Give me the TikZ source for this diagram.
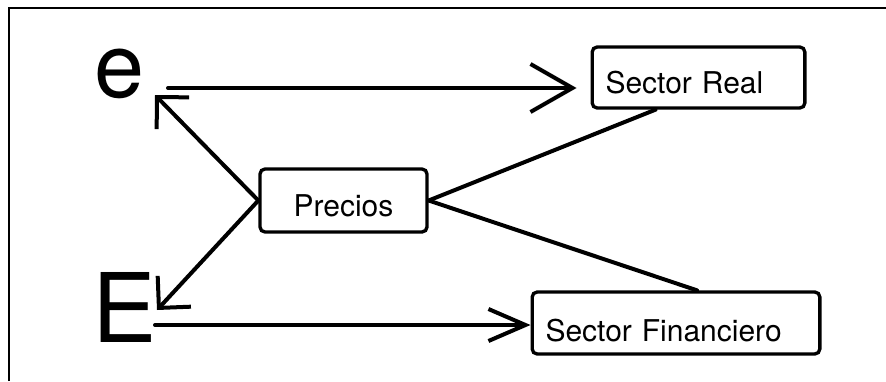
\documentclass[tikz,border=0pt]{standalone}
\usepackage{fontspec}
\setmainfont{TeX Gyre Heros}
\usetikzlibrary{arrows.meta,calc}
\tikzset{
  sector/.style={draw, line width=1mm, rounded corners=1.5mm, inner xsep=4mm, inner ysep=0pt, text depth=0pt, font=\fontsize{25.6}{30}\selectfont},
  flow/.style={line width=1.2mm, line cap=round},
  headA/.style={flow, -{Straight Barb[length=12.6mm, width=14.4mm]}},
  headB/.style={flow, -{Straight Barb[length=11.1mm, width=9.6mm]}},
  headL/.style={flow, -{Straight Barb[length=6.8mm, width=13.6mm]}},
}

\begin{document}
\begin{tikzpicture}[x=0.3mm, y=-0.3mm]
\useasboundingbox (0,0) rectangle (886,381);
\draw[line width=0.6mm] (9,381) -- (9,8) -- (886,8);

	\node[inner sep=0, anchor=base west, font=\fontsize{76.8}{80}\selectfont] (e) at (94,97) {e};
	\node[inner sep=0, anchor=base west, font=\fontsize{82}{86}\selectfont] (E) at (92,342) {E};

	\node[sector, minimum width=50.1mm, minimum height=18.9mm, text height=9.7mm] (precios) at (343.5,200.5) {Precios};
	\node[sector, text width=55.8mm, minimum height=18.3mm, text height=9.5mm, align=left] (sreal) at (698.5,77.5) {Sector Real};
	\node[sector, text width=78.3mm, minimum height=18.6mm, text height=11.2mm, align=left] (sfin) at (676,323) {Sector Financiero};

\coordinate (e out) at (168,88);
\coordinate (e in) at (155,95);
\coordinate (E out) at (155,325);
\coordinate (E in) at (157,310);

	\draw[headA, shorten >=4.2mm] (e out) -- (e out -| sreal.west);
	\draw[headB] (E out) -- (E out -| sfin.west);
	\draw[headL] (precios.west) -- (e in);
	\draw[headL] (precios.west) -- (E in);
	\draw[flow] (precios.east) -- ($(sreal.south)+(-43,0)$);
	\draw[flow] (precios.east) -- ($(sfin.north)+(21,0)$);
\end{tikzpicture}
\end{document}
